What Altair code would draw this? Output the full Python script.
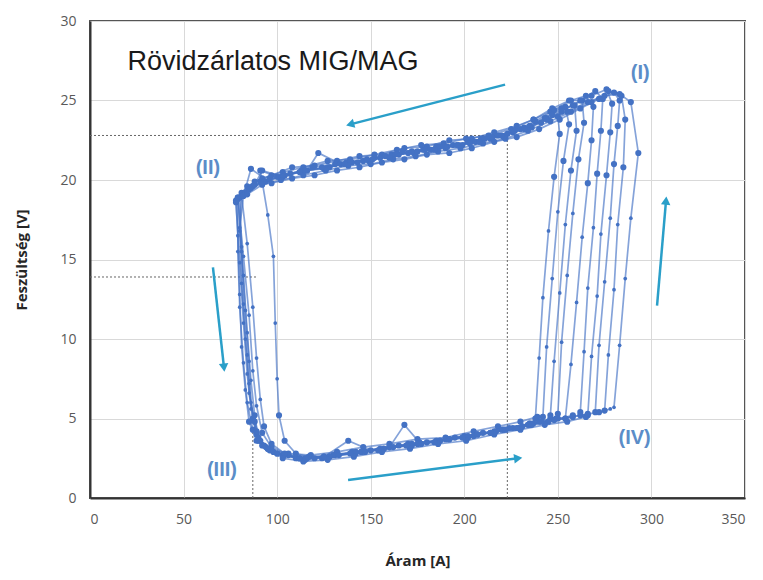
import altair as alt
import pandas as pd

# ---- data: measured loops (current [A], voltage [V]) ----
cycle_A = [(238,5.0),(240,8.8),(242,12.6),(245,16.8),(248,20.2),(251,22.9),(250,24.0),(244,23.9),(236,23.3),(226,23.0),(214,22.6),(202,22.4),(190,22.0),(178,21.9),(165,21.6),(152,21.4),(140,21.1),(128,20.8),(116,20.6),(104,20.3),(94,19.9),(86,19.5),(79,18.8),(79,15.5),(80,12.0),(82,8.5),(84,6.0),(87,4.3),(92,3.3),(100,2.8),(112,2.5),(125,2.6),(140,2.9),(155,3.1),(170,3.4),(185,3.6),(200,3.9),(214,4.1),(226,4.4),(235,4.7)]
cycle_B = [(242,5.1),(244,9.5),(247,13.8),(250,18.0),(253,21.2),(256,23.5),(254,24.6),(246,24.3),(237,23.8),(228,23.4),(216,23.0),(204,22.6),(192,22.5),(180,22.1),(168,22.0),(156,21.6),(144,21.5),(132,21.2),(120,20.9),(108,20.8),(97,20.3),(88,19.9),(81,19.2),(80,16.8),(81,13.5),(83,10.0),(85,7.2),(87,5.0),(90,3.6),(96,3.0),(106,2.8),(118,2.7),(132,2.9),(146,3.2),(160,3.4),(175,3.7),(190,3.8),(205,4.2),(218,4.5),(230,4.8),(239,5.1)]
cycle_C = [(246,5.2),(248,8.6),(251,12.9),(254,17.2),(257,20.6),(260,23.1),(259,24.7),(252,24.5),(243,23.9),(232,23.3),(221,22.7),(209,22.6),(197,22.2),(185,22.1),(173,21.7),(161,21.6),(149,21.2),(137,21.1),(125,20.7),(113,20.6),(102,20.2),(91,19.9),(83,19.2),(78,18.6),(80,14.8),(82,11.0),(84,7.8),(86,5.6),(89,4.0),(94,3.2),(103,2.7),(115,2.4),(128,2.6),(142,2.8),(157,3.1),(172,3.3),(187,3.6),(202,3.8),(216,4.2),(229,4.4),(240,4.8)]
cycle_D = [(250,5.3),(252,9.8),(255,14.0),(258,17.9),(261,21.3),(264,23.6),(263,25.0),(256,25.0),(247,24.5),(237,23.8),(225,23.2),(213,22.8),(201,22.6),(189,22.3),(177,22.2),(164,21.9),(152,21.6),(139,21.3),(127,21.2),(114,20.8),(103,20.5),(92,20.1),(84,19.6),(79,18.9),(82,15.2),(85,11.5),(87,8.0),(89,5.8),(92,4.1),(97,3.2),(106,2.7),(117,2.6),(131,2.7),(145,2.9),(160,3.2),(168,4.6),(176,3.5),(192,3.7),(207,4.0),(221,4.3),(235,4.6),(246,5.0)]
cycle_E = [(254,5.0),(257,8.4),(260,12.3),(263,16.4),(266,19.8),(268,22.5),(269,24.6),(265,25.3),(257,25.0),(248,24.4),(238,23.7),(227,23.1),(215,22.7),(203,22.3),(191,22.1),(179,21.9),(167,21.8),(155,21.4),(143,21.1),(131,21.0),(119,20.8),(107,20.4),(96,20.1),(87,19.6),(80,18.9),(81,15.8),(82,12.2),(84,9.0),(85,6.6),(88,4.8),(91,3.6),(98,2.9),(110,2.5),(124,2.5),(138,3.6),(150,3.0),(165,3.3),(180,3.5),(195,3.8),(210,4.1),(224,4.4),(237,4.7),(249,5.0)]
cycle_F = [(262,5.4),(264,9.2),(266,13.2),(269,17.0),(271,20.4),(273,23.1),(274,25.1),(270,25.6),(262,25.0),(252,24.3),(241,23.6),(230,23.2),(218,22.8),(206,22.4),(194,22.2),(182,21.9),(170,21.7),(158,21.5),(146,21.2),(134,21.0),(122,21.7),(116,20.6),(104,20.3),(93,19.9),(85,19.4),(78,18.7),(79,16.5),(80,12.8),(81,9.5),(83,6.8),(85,4.8),(89,3.6),(95,3.1),(104,2.7),(116,2.5),(130,2.7),(145,2.9),(160,3.2),(175,3.4),(190,3.7),(205,3.9),(220,4.3),(234,4.6),(248,4.9),(258,5.2)]
cycle_G = [(266,5.2),(268,8.9),(271,12.7),(273,16.6),(276,20.3),(278,23.0),(279,24.8),(276,25.7),(268,25.3),(258,24.7),(247,24.1),(235,23.4),(223,22.9),(211,22.6),(199,22.2),(187,22.1),(175,21.8),(163,21.6),(151,21.3),(139,21.2),(127,20.8),(115,20.6),(103,20.2),(92,20.6),(88,19.7),(81,19.0),(84,16.0),(87,12.0),(89,8.8),(91,6.2),(93,4.5),(97,3.4),(104,2.8),(115,2.5),(128,2.6),(142,2.9),(157,3.1),(172,3.4),(187,3.6),(202,3.9),(217,4.2),(231,4.5),(245,4.8),(258,5.1)]
cycle_H = [(270,5.4),(272,9.6),(275,13.6),(278,17.6),(280,21.0),(282,23.4),(283,25.0),(280,25.5),(272,25.1),(262,24.5),(251,23.8),(240,23.2),(228,22.7),(216,22.4),(204,22.0),(192,21.7),(180,21.6),(168,21.3),(156,21.1),(144,20.8),(132,20.6),(120,20.3),(108,20.1),(97,19.8),(86,20.7),(82,19.0),(80,17.0),(82,14.0),(84,10.4),(86,7.4),(88,5.2),(90,3.8),(95,3.1),(103,2.5),(114,2.3),(127,2.4),(141,2.6),(156,2.9),(171,3.1),(186,3.4),(201,3.6),(216,4.0),(230,4.3),(243,4.6),(255,4.8),(265,5.1)]
cycle_I = [(275,5.5),(277,9.0),(280,13.1),(282,17.2),(285,20.8),(286,23.8),(284,25.3),(277,25.6),(268,24.9),(257,24.3),(246,23.7),(234,23.1),(222,22.6),(210,22.3),(198,22.0),(186,21.8),(174,21.5),(162,21.3),(150,21.0),(138,20.9),(126,20.6),(114,20.3),(102,20.0),(92,19.7),(84,19.1),(79,18.9),(81,15.5),(83,11.8),(85,8.6),(86,6.0),(89,4.2),(93,3.3),(100,2.8),(112,2.5),(125,2.6),(139,2.8),(154,3.0),(169,3.3),(184,3.5),(199,3.8),(214,4.1),(228,4.4),(241,4.8),(254,5.0),(266,5.3)]
cycle_J = [(280,5.7),(283,9.6),(286,13.8),(289,17.6),(293,21.7),(289,24.9),(283,25.4),(275,25.3),(266,24.9),(255,24.3),(244,23.8),(232,23.2),(220,22.8),(208,22.4),(196,22.2),(184,21.9),(172,21.8),(160,21.4),(148,21.3),(136,21.0),(124,20.8),(112,20.5),(100,20.2),(91,20.6),(95,17.8),(98,15.2),(99,11.0),(100,7.5),(101,5.2),(104,3.6),(110,2.8),(120,2.5),(133,2.7),(147,2.9),(162,3.2),(177,3.4),(192,3.7),(207,4.0),(222,4.3),(236,4.6),(250,5.0),(262,5.2),(272,5.4),(278,5.6)]

cycles = {"A": cycle_A, "B": cycle_B, "C": cycle_C, "D": cycle_D, "E": cycle_E,
          "F": cycle_F, "G": cycle_G, "H": cycle_H, "I": cycle_I, "J": cycle_J}

# reference (dotted) lines
ref_x1 = [0, 223, 0, 87]
ref_x2 = [223, 223, 89, 87]
ref_y1 = [22.8, 0, 13.9, 0]
ref_y2 = [22.8, 22.8, 13.9, 4.5]

# direction arrows: start -> end
arrow_x1 = [221.8, 65.7, 137.9, 303.0]
arrow_y1 = [26.0, 14.5, 1.13, 12.1]
arrow_x2 = [139.0, 71.6, 228.8, 307.8]
arrow_y2 = [23.5, 8.2, 2.5, 18.7]
arrow_angle = [255, 174, 83, 5]

# phase labels
phase_text = ["(I)", "(II)", "(III)", "(IV)"]
phase_x = [294, 63, 70.5, 291]
phase_y = [26.7, 20.75, 1.76, 3.8]

title_text = ["Rövidzárlatos MIG/MAG"]
title_x = [20]
title_y = [27.4]

x_ticks = [0, 50, 100, 150, 200, 250, 300, 350]
y_ticks = [0, 5, 10, 15, 20, 25, 30]

# ---- build tables ----
rows = []
for name, pts in cycles.items():
    for k, (i, u) in enumerate(pts):
        rows.append({"cycle": name, "order": k, "I": i, "U": u})
loops = pd.DataFrame(rows)

refs = pd.DataFrame({"x1": ref_x1, "x2": ref_x2, "y1": ref_y1, "y2": ref_y2})
arrows = pd.DataFrame({"x1": arrow_x1, "y1": arrow_y1, "x2": arrow_x2, "y2": arrow_y2, "angle": arrow_angle})
phases = pd.DataFrame({"t": phase_text, "x": phase_x, "y": phase_y})
titles = pd.DataFrame({"t": title_text, "x": title_x, "y": title_y})

xs = alt.Scale(domain=[0, 350], nice=False)
ys = alt.Scale(domain=[0, 30], nice=False)

X = alt.X("I:Q", scale=xs, axis=alt.Axis(values=x_ticks, title="Áram [A]"))
Y = alt.Y("U:Q", scale=ys, axis=alt.Axis(values=y_ticks, title="Feszültség [V]"))

blue = "#4472C4"
lines = alt.Chart(loops).mark_line(color=blue, strokeWidth=1.7, opacity=0.65).encode(
    x=X, y=Y, detail="cycle:N", order="order:Q")
points = alt.Chart(loops).mark_circle(color=blue, opacity=1).encode(
    x=X, y=Y,
    size=alt.condition("datum.U > 18.5 || datum.U < 5.6", alt.value(38), alt.value(14)))

ref_layer = alt.Chart(refs).mark_rule(color="#666666", strokeDash=[2, 2], strokeWidth=1).encode(
    x=alt.X("x1:Q", scale=xs), x2="x2:Q", y=alt.Y("y1:Q", scale=ys), y2="y2:Q")

arrow_color = "#2A9FC9"
arrow_lines = alt.Chart(arrows).mark_rule(color=arrow_color, strokeWidth=2.5).encode(
    x=alt.X("x1:Q", scale=xs), x2="x2:Q", y=alt.Y("y1:Q", scale=ys), y2="y2:Q")
arrow_heads = alt.Chart(arrows).mark_point(shape="triangle-up", filled=True, color=arrow_color,
                                           size=90, opacity=1).encode(
    x=alt.X("x2:Q", scale=xs), y=alt.Y("y2:Q", scale=ys), angle=alt.Angle("angle:Q", scale=None))

phase_layer = alt.Chart(phases).mark_text(color="#5B8DC8", fontSize=20, fontWeight="bold",
                                          font="Liberation Sans").encode(
    x=alt.X("x:Q", scale=xs), y=alt.Y("y:Q", scale=ys), text="t:N")

title_layer = alt.Chart(titles).mark_text(color="#1a1a1a", fontSize=27, align="left",
                                          font="Liberation Sans").encode(
    x=alt.X("x:Q", scale=xs), y=alt.Y("y:Q", scale=ys), text="t:N")

chart = alt.layer(ref_layer, lines, points, arrow_lines, arrow_heads, phase_layer, title_layer).properties(
    width=655, height=477,
    autosize=alt.AutoSizeParams(type="none"),
    padding={"left": 82, "top": 13, "right": 10, "bottom": 79},
).configure_view(
    stroke="#555555", strokeWidth=2
).configure_axis(
    grid=True, gridColor="#d9d9d9", gridWidth=1,
    domainColor="#333333", domainWidth=2,
    ticks=False,
    labelColor="#595959", labelFontSize=14, labelFont="Open Sans",
    titleColor="#262626", titleFontSize=15, titleFont="Open Sans", titleFontWeight="bold",
).configure_axisX(
    labelPadding=14, titlePadding=27
).configure_axisY(
    labelPadding=14, titlePadding=30
)

chart.save("out.html", embed_options={"renderer": "svg", "actions": False})
